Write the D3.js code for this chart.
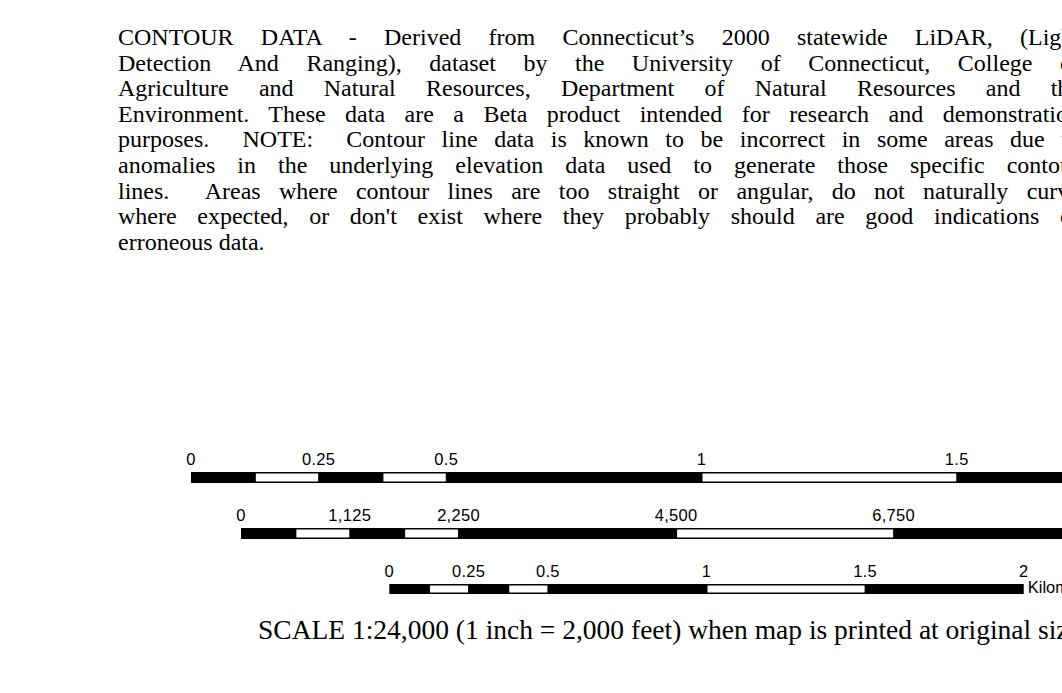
<!DOCTYPE html>
<html>
<head>
<meta charset="utf-8">
<script src="https://cdn.jsdelivr.net/npm/d3@7"></script>
<style>
  body { margin: 0; background: #fff; overflow: hidden; }
  .note { font-family: "Liberation Serif", "Times New Roman", serif; white-space: pre; }
  .tick { font-family: "Liberation Sans", Arial, sans-serif; }
</style>
</head>
<body>
<div id="chart"></div>
<script>
// Contour data note + scale bars

const noteLines = [
    'CONTOUR DATA - Derived from Connecticut\u2019s 2000 statewide LiDAR, (Light',
    'Detection And Ranging), dataset by the University of Connecticut, College of',
    'Agriculture and Natural Resources, Department of Natural Resources and the',
    'Environment. These data are a Beta product intended for research and demonstration',
    'purposes.  NOTE:  Contour line data is known to be incorrect in some areas due to',
    'anomalies in the underlying elevation data used to generate those specific contour',
    'lines.  Areas where contour lines are too straight or angular, do not naturally curve',
    'where expected, or don\'t exist where they probably should are good indications of',
    'erroneous data.'
];

const mileTicks = [0, 0.25, 0.5, 1, 1.5, 2];
const mileStops = [0, 0.125, 0.25, 0.375, 0.5, 1, 1.5, 2];
const feetTicks = [0, 1125, 2250, 4500, 6750, 9000];
const feetStops = [0, 562.5, 1125, 1687.5, 2250, 4500, 6750, 9000];
const kmTicks = [0, 0.25, 0.5, 1, 1.5, 2];
const kmStops = [0, 0.125, 0.25, 0.375, 0.5, 1, 1.5, 2];
const unitNames = ['Miles', 'Feet', 'Kilometers'];

const scaleNote = 'SCALE 1:24,000 (1 inch = 2,000 feet) when map is printed at original size';

const width = 1062, height = 693;

var svg = d3.select('#chart')
    .append('svg')
    .attr('width', width)
    .attr('height', height);

// ---- paragraph, justified like the original doc ----
const textX = 118, blockW = 962, firstBase = 45, lineGap = 25.6;

var noteG = svg.append('g');

noteG.selectAll('.note')
    .data(noteLines)
    .join('text')
    .classed('note', true)
    .attr('x', textX)
    .attr('y', (d, i) => firstBase + i * lineGap)
    .attr('font-size', 24)
    .attr('fill', '#000')
    .text(d => d)
    .each(function(d, i) {
        if (i == noteLines.length - 1) return;
        let spaces = (d.match(/ /g) || []).length;
        let natural = this.getComputedTextLength();
        let extra = (blockW - natural) / spaces;
        if (extra > 0) d3.select(this).attr('word-spacing', extra);
    });

// ---- scale bars ----
const pxPerMile = 510.5;

var bars = [
    { stops: mileStops, ticks: mileTicks, top: 472, h: 11,
      x: d3.scaleLinear().domain([0, 1]).range([191, 191 + pxPerMile]), unit: unitNames[0] },
    { stops: feetStops, ticks: feetTicks, top: 528, h: 11,
      x: d3.scaleLinear().domain([0, 5280]).range([241, 241 + pxPerMile]), unit: unitNames[1] },
    { stops: kmStops, ticks: kmTicks, top: 584, h: 10,
      x: d3.scaleLinear().domain([0, 1.609344]).range([389.3, 389.3 + pxPerMile]), unit: unitNames[2] }
];

const fmt = d3.format(',');

bars.forEach(b => {
    let g = svg.append('g');
    let segs = d3.pairs(b.stops);

    g.append('rect')
        .attr('x', b.x(b.stops[0]))
        .attr('y', b.top)
        .attr('width', b.x(b.stops[b.stops.length - 1]) - b.x(b.stops[0]))
        .attr('height', b.h)
        .attr('fill', '#000');

    g.selectAll('.seg')
        .data(segs.filter((d, i) => i % 2 == 1))
        .join('rect')
        .classed('seg', true)
        .attr('x', d => b.x(d[0]) + 1)
        .attr('y', b.top + 1.5)
        .attr('width', d => b.x(d[1]) - b.x(d[0]) - 1.5)
        .attr('height', b.h - 3)
        .attr('fill', '#fff');

    g.selectAll('.tick')
        .data(b.ticks)
        .join('text')
        .classed('tick', true)
        .attr('x', d => b.x(d))
        .attr('y', b.top - 7)
        .attr('text-anchor', 'middle')
        .attr('font-size', 16.5)
        .attr('letter-spacing', 0.3)
        .attr('fill', '#000')
        .text(d => fmt(d));

    g.append('text')
        .classed('tick', true)
        .attr('x', b.x(b.stops[b.stops.length - 1]) + 4)
        .attr('y', b.top + b.h - 1)
        .attr('font-size', 16.5)
        .attr('fill', '#000')
        .text(b.unit);
});

svg.append('text')
    .classed('note', true)
    .attr('x', 258)
    .attr('y', 639)
    .attr('font-size', 27.5)
    .attr('fill', '#000')
    .text(scaleNote);
</script>
</body>
</html>
